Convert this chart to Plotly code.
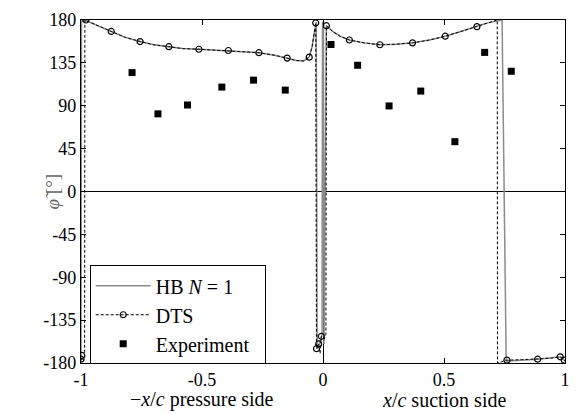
import plotly.graph_objects as go

# HB N=1 (gray solid line)
hb_x = [-1.0, -0.998, -0.98, -0.93, -0.875, -0.82, -0.756, -0.70, -0.637, -0.58, -0.513, -0.45,
        -0.391, -0.33, -0.265, -0.20, -0.148, -0.11, -0.08, -0.057, -0.045, -0.035, -0.028,
        -0.024, -0.012, -0.004, -0.002, 0.002, 0.004, 0.014, 0.04, 0.07, 0.109, 0.17, 0.235,
        0.30, 0.37, 0.44, 0.505, 0.57, 0.636, 0.68, 0.74, 0.757, 0.887, 0.98, 0.997, 1.0]
hb_y = [-178, 179, 179.5, 174, 168, 162, 157.4, 154, 152, 150, 149.3, 148.5,
        148, 147, 145.7, 143, 140, 137.5, 137, 141, 152, 168, 178,
        -165, -158, -150, 178, 177, -160, 174, 168, 163, 159, 156, 154,
        154.5, 156, 159, 163, 168, 173, 177, 180, -178, -176, -173.5, -177, -178]

# DTS (dashed line)
dts_x = [-1.0, -0.985, -0.984, -0.98, -0.93, -0.875, -0.82, -0.756, -0.70, -0.637, -0.58, -0.513,
         -0.45, -0.391, -0.33, -0.265, -0.20, -0.148, -0.11, -0.08, -0.057, -0.045, -0.035, -0.03,
         -0.027, -0.018, -0.012, -0.007, 0.005, 0.012, 0.014, 0.04, 0.07, 0.109, 0.17, 0.235,
         0.30, 0.37, 0.44, 0.505, 0.57, 0.636, 0.68, 0.72, 0.721, 0.76, 0.82, 0.887, 0.94, 0.98,
         0.997, 1.0]
dts_y = [-176, -176, 180, 179.5, 174, 168, 162, 157.4, 154, 152, 150, 149.3,
         148.5, 148, 147, 145.7, 143, 140, 137.5, 137, 141, 152, 168, 177,
         -165, -160, -170, -152, -155, -150, 174, 168, 163, 159, 156, 154,
         154.5, 156, 159, 163, 168, 173, 177, 180, -180, -177, -176.5, -176, -175, -173.5,
         -177, -178]

# DTS markers
dts_mx = [-1.0, -0.997, -0.98, -0.875, -0.756, -0.637, -0.513, -0.391, -0.265, -0.148, -0.057, -0.03,
          -0.027, -0.018, -0.007, 0.014, 0.109, 0.235, 0.37, 0.505, 0.636, 0.76, 0.887, 0.98, 0.997]
dts_my = [-176, -172, 180, 168, 157.4, 152, 149.3, 148, 145.7, 140, 141, 177,
          -165, -160, -152, 174, 159, 154, 156, 163, 173, -177, -176, -173.5, -177]

# Experiment
exp_x = [-0.789, -0.682, -0.56, -0.418, -0.287, -0.156, 0.033, 0.143, 0.273, 0.404, 0.545, 0.668, 0.778]
exp_y = [124.8, 81.5, 90.8, 109.6, 116.9, 106.4, 154.3, 132.5, 89.8, 105.4, 52.3, 146, 126.2]

y_ticks = [-180, -135, -90, -45, 0, 45, 90, 135, 180]
y_ticktext = ["-180", "-135", "-90", "-45", "0", "45", "90", "135", "180"]
x_ticks = [-1, -0.5, 0, 0.5, 1]
x_ticktext = ["-1", "-0.5", "0", "0.5", "1"]

FONT = "Liberation Serif"
DASH = "3px,2px"

fig = go.Figure()
fig.add_trace(go.Scatter(x=hb_x, y=hb_y, mode="lines", name="HB <i>N</i> = 1", legendgroup="a",
                         line=dict(color="#8c8c8c", width=1.5)))
fig.add_trace(go.Scatter(x=dts_x, y=dts_y, mode="lines", showlegend=False,
                         line=dict(color="black", width=1, dash=DASH)))
fig.add_trace(go.Scatter(x=dts_mx, y=dts_my, mode="markers", showlegend=False,
                         marker=dict(symbol="circle-open", size=6, color="black",
                                     line=dict(width=1.2, color="black"))))
fig.add_trace(go.Scatter(x=[None], y=[None], mode="lines+markers", name="DTS", legendgroup="b",
                         line=dict(color="black", width=1, dash=DASH),
                         marker=dict(symbol="circle-open", size=6, color="black",
                                     line=dict(width=1.2, color="black"))))
fig.add_trace(go.Scatter(x=exp_x, y=exp_y, mode="markers", name="Experiment&nbsp;&nbsp;", legendgroup="c",
                         marker=dict(symbol="square", size=7, color="black")))

axis_common = dict(showline=True, linecolor="black", linewidth=1.2, mirror="ticks",
                   ticks="inside", ticklen=5, tickcolor="black", showgrid=False,
                   zeroline=True, zerolinecolor="black", zerolinewidth=1,
                   tickfont=dict(family=FONT, size=18, color="black"))

fig.update_layout(
    width=580, height=414,
    margin=dict(l=81, r=10, t=17, b=51),
    paper_bgcolor="white", plot_bgcolor="white",
    font=dict(family=FONT, size=18, color="black"),
    xaxis=dict(range=[-1, 1], tickvals=x_ticks, ticktext=x_ticktext, **axis_common),
    yaxis=dict(range=[-180, 180], tickvals=y_ticks, ticktext=y_ticktext, **axis_common),
    legend=dict(x=0.018, y=0.285, xanchor="left", yanchor="top",
                bordercolor="black", borderwidth=1, bgcolor="white",
                tracegroupgap=0,
                font=dict(family=FONT, size=20, color="black"), itemwidth=55),
    annotations=[
        dict(text="−<i>x</i>/<i>c</i> pressure side", x=-0.5, y=-0.107, xref="x", yref="paper",
             showarrow=False, yanchor="middle", font=dict(family=FONT, size=20)),
        dict(text="<i>x</i>/<i>c</i> suction side", x=0.5, y=-0.107, xref="x", yref="paper",
             showarrow=False, yanchor="middle", font=dict(family=FONT, size=20)),
        dict(text="<i>φ̃</i> [°]", x=(40 - 81) / 489, y=0.5, xref="paper", yref="paper",
             showarrow=False, textangle=-90, font=dict(family=FONT, size=19, color="#666666")),
    ],
)

fig.write_html("out.html")
